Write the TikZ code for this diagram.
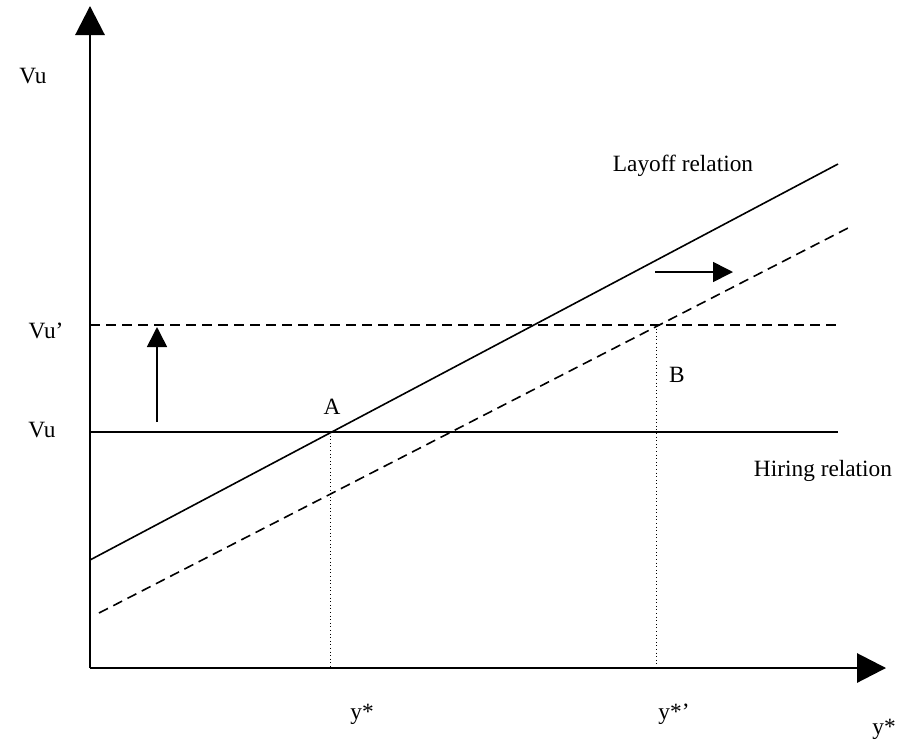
\documentclass[tikz,border=0pt]{standalone}
\usepackage{fontspec}
\setmainfont{Liberation Serif}
\usetikzlibrary{arrows.meta}

\tikzset{
  axisline/.style={line width=1.4pt,-{Triangle[length=21.75pt,width=22pt]}},
  curve/.style={line width=1.2pt},
  shifted/.style={line width=1.2pt,dash pattern=on 7.5pt off 4.5pt},
  guide/.style={line width=0.7pt,dotted},
  shiftarrow/.style={line width=1.2pt,-{Triangle[length=15pt,width=15pt]}},
  lbl/.style={font=\fontsize{17.5}{20}\selectfont,inner sep=0pt}
}

\begin{document}
\begin{tikzpicture}[x=0.75pt,y=-0.75pt]
  \useasboundingbox (0,0) rectangle (907,747);
  % axes
  \coordinate (O) at (90,668);
  \coordinate (ytop) at (90,6);
  \coordinate (xend) at (886,668);
  \draw[axisline] (O) -- (ytop);
  \draw[axisline] (O) -- (xend);
  % hiring relation, old and new
  \coordinate (h0) at (90,432);
  \coordinate (h1) at (838,432);
  \coordinate (g0) at (90,325);
  \coordinate (g1) at (838,325);
  \draw[curve] (h0) -- (h1);
  \draw[shifted] (g0) -- (g1);
  % layoff relation, old and new
  \coordinate (l0) at (90,560);
  \coordinate (l1) at (838,164);
  \coordinate (m0) at (99,613);
  \coordinate (m1) at (848,228);
  \draw[curve] (l0) -- (l1);
  \draw[shifted] (m0) -- (m1);
  % equilibria
  \coordinate (A) at (330,432);
  \coordinate (B) at (656,325);
  \draw[guide] (A) -- (A |- O);
  \draw[guide] (B) -- (B |- O);
  % shifts
  \coordinate (up0) at (157,422);
  \coordinate (up1) at (157,327);
  \coordinate (rt0) at (655,272);
  \coordinate (rt1) at (733,272);
  \draw[shiftarrow] (up0) -- (up1);
  \draw[shiftarrow] (rt0) -- (rt1);
  % labels
  \node[lbl] (vutop) at (33,76) {Vu};
  \node[lbl] (vunew) at (46,331) {Vu’};
  \node[lbl] (vuold) at (42,430) {Vu};
  \node[lbl] (lA) at (332,407) {A};
  \node[lbl] (lB) at (677,375) {B};
  \node[lbl] (layoff) at (683,166) {Layoff relation};
  \node[lbl] (hiring) at (823,471) {Hiring relation};
  \node[lbl] (ystar) at (362,714) {y*};
  \node[lbl] (ystarnew) at (674,714) {y*’};
  \node[lbl] (yaxis) at (884,729) {y*};
\end{tikzpicture}
\end{document}
